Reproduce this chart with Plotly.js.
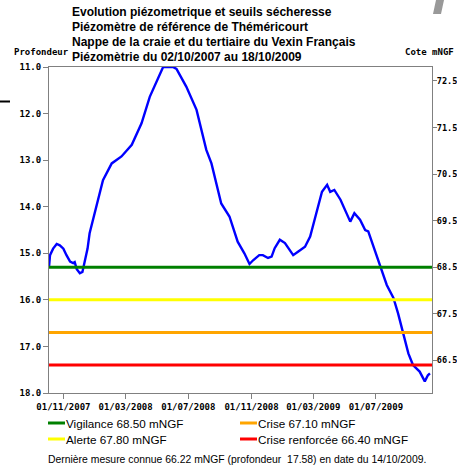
<!DOCTYPE html>
<html>
<head>
<meta charset="utf-8">
<script src="https://cdn.plot.ly/plotly-3.0.1.min.js"></script>
<style>html,body{margin:0;padding:0;background:#fff;}#chart{width:457px;height:469px;}</style>
</head>
<body>
<div id="chart"></div>
<script>
// ---- data ----
const dates = ['2007-10-04','2007-10-06','2007-10-12','2007-10-19','2007-10-25','2007-11-01','2007-11-07','2007-11-14','2007-11-20','2007-11-23','2007-11-27','2007-12-03','2007-12-08','2007-12-13','2007-12-18','2007-12-22','2008-01-01','2008-01-11','2008-01-17','2008-02-03','2008-02-22','2008-03-13','2008-04-01','2008-04-17','2008-05-03','2008-05-13','2008-06-01','2008-06-08','2008-06-27','2008-07-17','2008-08-05','2008-08-15','2008-09-03','2008-09-19','2008-10-05','2008-10-18','2008-10-28','2008-11-04','2008-11-16','2008-11-23','2008-12-03','2008-12-10','2008-12-16','2008-12-26','2009-01-05','2009-01-21','2009-01-31','2009-02-13','2009-02-23','2009-03-05','2009-03-18','2009-03-28','2009-04-03','2009-04-11','2009-04-23','2009-05-12','2009-05-20','2009-05-31','2009-06-10','2009-06-16','2009-06-26','2009-07-09','2009-07-22','2009-08-04','2009-08-13','2009-08-23','2009-09-02','2009-09-11','2009-09-24','2009-10-04','2009-10-10','2009-10-14'];
const depth = [15.30,15.04,14.90,14.80,14.83,14.90,15.04,15.18,15.21,15.19,15.34,15.43,15.40,15.18,14.90,14.57,14.14,13.71,13.43,13.07,12.92,12.67,12.21,11.64,11.24,11.00,11.00,11.04,11.42,11.92,12.78,13.07,13.93,14.21,14.75,15.00,15.23,15.15,15.04,15.04,15.10,15.07,14.89,14.71,14.78,15.04,14.96,14.86,14.64,14.21,13.68,13.53,13.68,13.64,13.85,14.32,14.14,14.28,14.50,14.53,14.86,15.29,15.68,15.96,16.29,16.72,17.15,17.40,17.54,17.75,17.62,17.58];
const thresholdNames = ['Vigilance','Alerte','Crise','Crise renforcée'];
const thresholdValues = [68.50, 67.80, 67.10, 66.40];
const thresholdColors = ['#008000','#ffff00','#ffa500','#ff0000'];
const xTickVals = ['2007-11-01','2008-03-01','2008-07-01','2008-11-01','2009-03-01','2009-07-01'];
const xTickText = ['01/11/2007','01/03/2008','01/07/2008','01/11/2008','01/03/2009','01/07/2009'];
const xRange = ['2007-10-04','2009-10-18'];
const depthRange = [18, 11];
const refLevel = 83.80; // cote = refLevel - profondeur
const lastMeasure = {cote: 66.22, depth: 17.58, date: '14/10/2009'};
const titleLines = ['Evolution piézometrique et seuils sécheresse','Piézomètre de référence de Théméricourt','Nappe de la craie et du tertiaire du Vexin Français','Piézomètrie du 02/10/2007 au 18/10/2009'];

// ---- layout geometry ----
const W = 457, H = 469;
const M = {l: 49, r: 25, t: 67, b: 76};
const PW = W - M.l - M.r, PH = H - M.t - M.b;
const px = x => (x - M.l) / PW;
const py = y => (H - M.b - y) / PH;

const traces = [];
thresholdValues.forEach((v, i) => {
  traces.push({x: xRange, y: [v, v], yaxis: 'y2', mode: 'lines',
    line: {color: thresholdColors[i], width: 3}, hoverinfo: 'skip', showlegend: false});
});
traces.push({x: dates, y: depth, mode: 'lines', line: {color: '#0000ff', width: 2.4}, showlegend: false});

const mono = {family: 'DejaVu Sans Mono, monospace', size: 9, color: '#000', weight: 'bold'};
const monoR = {family: 'DejaVu Sans Mono, monospace', size: 8.6, color: '#000', weight: 'bold'};
const axisCol = '#808080';
const annotations = [];
titleLines.forEach((t, i) => {
  annotations.push({text: '<b>' + t + '</b>', xref: 'paper', yref: 'paper', x: px(70), y: py(12 + i * 15),
    xanchor: 'left', yanchor: 'middle', showarrow: false,
    font: {family: 'Liberation Sans, Arial, sans-serif', size: 12, color: '#000'}});
});
annotations.push({text: 'Profondeur', xref: 'paper', yref: 'paper', x: px(12), y: py(52), xanchor: 'left', yanchor: 'middle', showarrow: false, font: mono});
annotations.push({text: 'Cote mNGF', xref: 'paper', yref: 'paper', x: px(456), y: py(52), xanchor: 'right', yanchor: 'middle', showarrow: false, font: mono});

// legend (two columns)
const legOrder = [0, 2, 1, 3];
const legPos = [[48, 423], [240, 423], [48, 439], [240, 439]];
const shapes = [];
legOrder.forEach((ti, k) => {
  const [lx, ly] = legPos[k];
  shapes.push({type: 'line', xref: 'paper', yref: 'paper', x0: px(lx), x1: px(lx + 17), y0: py(ly), y1: py(ly), line: {color: thresholdColors[ti], width: 3}});
  annotations.push({text: thresholdNames[ti] + ' ' + thresholdValues[ti].toFixed(2) + ' mNGF', xref: 'paper', yref: 'paper',
    x: px(lx + 16), y: py(ly), xanchor: 'left', yanchor: 'middle', showarrow: false,
    font: {family: 'Liberation Sans, Arial, sans-serif', size: 11.7, color: '#000'}});
});
annotations.push({text: 'Dernière mesure connue ' + lastMeasure.cote.toFixed(2) + ' mNGF (profondeur \u00a0' + lastMeasure.depth.toFixed(2) + ') en date du ' + lastMeasure.date + '.',
  xref: 'paper', yref: 'paper', x: px(46), y: py(459), xanchor: 'left', yanchor: 'middle', showarrow: false,
  font: {family: 'Liberation Sans, Arial, sans-serif', size: 10.4, color: '#000'}});

// small artifacts
shapes.push({type: 'line', xref: 'paper', yref: 'paper', x0: px(0), x1: px(10), y0: py(101.5), y1: py(101.5), line: {color: '#000', width: 2}});
shapes.push({type: 'path', xref: 'paper', yref: 'paper', fillcolor: '#999', line: {width: 0},
  path: `M ${px(436)} ${py(0)} L ${px(444)} ${py(0)} L ${px(441)} ${py(14)} L ${px(433)} ${py(14)} Z`});

const layout = {
  width: W, height: H, margin: M, paper_bgcolor: '#fff', plot_bgcolor: '#fff', showlegend: false,
  xaxis: {type: 'date', range: xRange, tickvals: xTickVals, ticktext: xTickText, ticks: 'outside', ticklen: 5, tickcolor: axisCol,
    showline: true, linecolor: axisCol, mirror: true, showgrid: false, zeroline: false, tickfont: mono},
  yaxis: {range: depthRange, tickvals: [11,12,13,14,15,16,17,18], ticktext: ['11.0','12.0','13.0','14.0','15.0','16.0','17.0','18.0'],
    ticks: 'outside', ticklen: 5, tickcolor: axisCol, showline: true, linecolor: axisCol, showgrid: false, zeroline: false, tickfont: mono},
  yaxis2: {overlaying: 'y', side: 'right', range: [refLevel - depthRange[0], refLevel - depthRange[1]],
    tickvals: [66.5,67.5,68.5,69.5,70.5,71.5,72.5], ticktext: ['66.5','67.5','68.5','69.5','70.5','71.5','72.5'],
    ticks: 'outside', ticklen: 4, tickcolor: axisCol, showline: true, linecolor: axisCol, showgrid: false, zeroline: false,
    tickfont: monoR, ticklabelstandoff: -2},
  annotations: annotations, shapes: shapes
};
Plotly.newPlot('chart', traces, layout, {displayModeBar: false, staticPlot: true});
</script>
</body>
</html>
